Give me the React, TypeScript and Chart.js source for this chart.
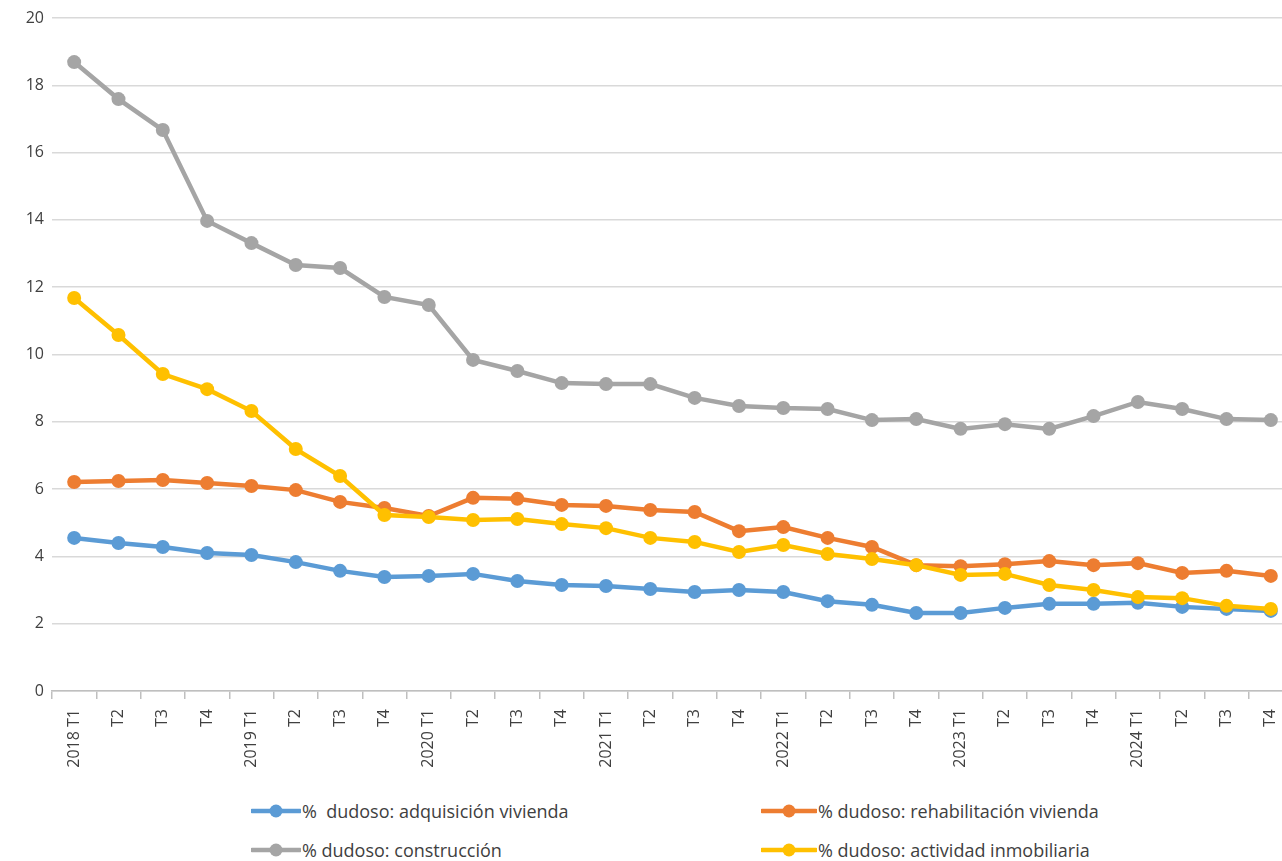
import React, { useEffect, useRef } from "react";
import { Chart, registerables } from "chart.js";

Chart.register(...registerables);

const categoryLabels = [
  "2018 T1", "T2", "T3", "T4",
  "2019 T1", "T2", "T3", "T4",
  "2020 T1", "T2", "T3", "T4",
  "2021 T1", "T2", "T3", "T4",
  "2022 T1", "T2", "T3", "T4",
  "2023 T1", "T2", "T3", "T4",
  "2024 T1", "T2", "T3", "T4",
];

const adquisicion = [
  4.55, 4.4, 4.28, 4.1, 4.04, 3.83, 3.57, 3.39, 3.42, 3.48, 3.27, 3.15, 3.12, 3.03,
  2.94, 3.0, 2.94, 2.67, 2.56, 2.32, 2.32, 2.47, 2.59, 2.59, 2.62, 2.5, 2.44, 2.38,
];
const rehabilitacion = [
  6.21, 6.24, 6.27, 6.18, 6.09, 5.97, 5.62, 5.44, 5.2, 5.74, 5.71, 5.53, 5.5, 5.38,
  5.32, 4.75, 4.87, 4.55, 4.28, 3.74, 3.71, 3.77, 3.86, 3.74, 3.8, 3.51, 3.57, 3.42,
];
const construccion = [
  18.69, 17.59, 16.67, 13.97, 13.31, 12.66, 12.57, 11.71, 11.47, 9.84, 9.51, 9.15, 9.12, 9.12,
  8.71, 8.47, 8.41, 8.38, 8.05, 8.08, 7.79, 7.93, 7.79, 8.17, 8.59, 8.38, 8.08, 8.05,
];
const inmobiliaria = [
  11.68, 10.58, 9.42, 8.97, 8.32, 7.19, 6.39, 5.23, 5.17, 5.08, 5.11, 4.96, 4.84, 4.55,
  4.43, 4.13, 4.34, 4.07, 3.92, 3.74, 3.45, 3.48, 3.15, 3.0, 2.79, 2.76, 2.53, 2.44,
];

const seriesNames = [
  "%  dudoso: adquisición vivienda",
  "% dudoso: rehabilitación vivienda",
  "% dudoso: construcción",
  "% dudoso: actividad inmobiliaria",
];
const seriesColors = ["#5b9bd5", "#ed7d31", "#a5a5a5", "#ffc000"];
const seriesData = [adquisicion, rehabilitacion, construccion, inmobiliaria];
const drawOrder = [4, 3, 2, 1];

const FONT = "'Open Sans', 'Noto Sans', sans-serif";

function LegendItem({ name, color, x, y, len }: { name: string; color: string; x: number; y: number; len: number }) {
  return (
    <div
      style={{
        position: "absolute",
        left: x,
        top: y - 13,
        height: 26,
        display: "flex",
        alignItems: "center",
        whiteSpace: "pre",
        fontFamily: FONT,
        fontSize: 18,
        color: "#404040",
      }}
    >
      <svg width={len + 2} height={24} style={{ marginRight: 1 }}>
        <line x1={1} y1={12} x2={len + 1} y2={12} stroke={color} strokeWidth={4.5} strokeLinecap="round" />
        <circle cx={len / 2 + 1} cy={12} r={6.5} fill={color} />
      </svg>
      <span>{name}</span>
    </div>
  );
}

export default function App() {
  const ref = useRef<HTMLCanvasElement>(null);
  useEffect(() => {
    if (!ref.current) return;
    const chart = new Chart(ref.current, {
      type: "line",
      data: {
        labels: categoryLabels,
        datasets: seriesData.map((d, i) => ({
          label: seriesNames[i],
          data: d,
          borderColor: seriesColors[i],
          backgroundColor: seriesColors[i],
          borderWidth: 4.5,
          pointRadius: 7,
          pointHoverRadius: 7,
          pointBorderWidth: 0,
          tension: 0,
          order: drawOrder[i],
        })),
      },
      options: {
        responsive: false,
        animation: false,
        devicePixelRatio: 1,
        layout: { padding: { top: 18, right: 0, left: 0, bottom: 0 } },
        plugins: { legend: { display: false }, tooltip: { enabled: false } },
        scales: {
          x: {
            offset: true,
            grid: {
              offset: true,
              drawOnChartArea: false,
              drawTicks: true,
              tickLength: 8,
              color: "#bfbfbf",
              lineWidth: 1.5,
            },
            border: { display: true, color: "#bfbfbf", width: 1.5 },
            ticks: {
              autoSkip: false,
              minRotation: 90,
              maxRotation: 90,
              padding: 10,
              color: "#404040",
              font: { family: FONT, size: 16 },
            },
            afterFit: (s: any) => {
              s.height = 89;
              s.paddingRight = 0;
              s.paddingLeft = 0;
            },
          },
          y: {
            min: 0,
            max: 20,
            ticks: {
              stepSize: 2,
              padding: 8,
              color: "#404040",
              font: { family: FONT, size: 16 },
            },
            grid: { color: "#d9d9d9", lineWidth: 1.5, drawTicks: false },
            border: { display: false },
            afterFit: (s: any) => {
              s.width = 52;
            },
          },
        },
      },
    });
    return () => chart.destroy();
  }, []);

  return (
    <div style={{ position: "absolute", left: 0, top: 0, width: 1282, height: 861, background: "#fff", overflow: "hidden" }}>
      <canvas ref={ref} width={1300} height={780} style={{ display: "block" }} />
      <LegendItem name={seriesNames[0]} color={seriesColors[0]} x={251} y={811} len={48} />
      <LegendItem name={seriesNames[1]} color={seriesColors[1]} x={761} y={811} len={54} />
      <LegendItem name={seriesNames[2]} color={seriesColors[2]} x={251} y={850} len={48} />
      <LegendItem name={seriesNames[3]} color={seriesColors[3]} x={761} y={850} len={54} />
    </div>
  );
}
